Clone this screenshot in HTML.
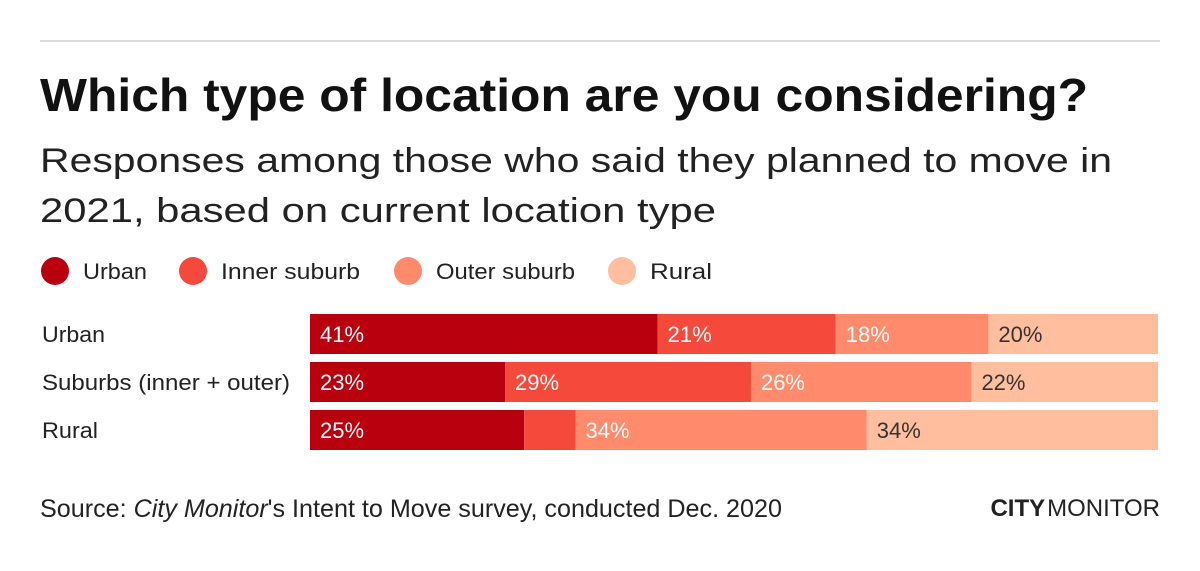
<!DOCTYPE html>
<html><head><meta charset="utf-8"><style>
body{margin:0;width:1200px;height:566px;background:#fff;font-family:"Liberation Sans",sans-serif;overflow:hidden}
</style></head><body>
<svg width="1200" height="566">
<line x1="40" y1="41" x2="1160" y2="41" stroke="#ddd" stroke-width="2"/>
<text x="40" y="111" font-size="46" font-weight="bold" fill="#111" textLength="1048" lengthAdjust="spacingAndGlyphs">Which type of location are you considering?</text>
<text x="40" y="172" font-size="34" fill="#222" textLength="1072" lengthAdjust="spacingAndGlyphs">Responses among those who said they planned to move in</text>
<text x="40" y="222" font-size="34" fill="#222" textLength="676" lengthAdjust="spacingAndGlyphs">2021, based on current location type</text>
<g id="legend"></g>
<g id="bars"></g>
<text x="40" y="517" font-size="25" fill="#222" textLength="742" lengthAdjust="spacingAndGlyphs">Source: <tspan font-style="italic">City Monitor</tspan>'s Intent to Move survey, conducted Dec. 2020</text>
<text x="1160" y="516" text-anchor="end" font-size="24" fill="#222"><tspan font-weight="bold">CITY</tspan><tspan dx="2">MONITOR</tspan></text>
</svg>
<script>
const categories=["Urban","Suburbs (inner + outer)","Rural"];
const seriesNames=["Urban","Inner suburb","Outer suburb","Rural"];
const urbanVals=[41,23,25];
const innerVals=[21,29,6];
const outerVals=[18,26,34];
const ruralVals=[20,22,34];
const labelsShown=[[true,true,true,true],[true,true,true,true],[true,false,true,true]];
const colors=["#b8000e","#f5493b","#ff8a6c","#ffbf9e"];
const textColors=["#fff","#fff","#fff","#333"];
const NS="http://www.w3.org/2000/svg";
const x0=310,x1=1158,rowY=[314,362,410],bh=40;
const series=[urbanVals,innerVals,outerVals,ruralVals];
const bars=document.getElementById('bars');
const leg=document.getElementById('legend');
const legX=[55,193,408,622];
const legLen=[64,139,139,62];
const catLen=[63,248,56];
seriesNames.forEach((n,i)=>{
 const c=document.createElementNS(NS,'circle');
 
 
 c.setAttribute('cx',legX[i]);c.setAttribute('cy',271);c.setAttribute('r',14);c.setAttribute('fill',colors[i]);leg.appendChild(c);
 const t=document.createElementNS(NS,'text');
 
 
 t.setAttribute('x',legX[i]+28);t.setAttribute('y',279);t.setAttribute('font-size',22);t.setAttribute('fill','#222');
 t.setAttribute('textLength',legLen[i]);t.setAttribute('lengthAdjust','spacingAndGlyphs');
 t.textContent=n;leg.appendChild(t);
});
categories.forEach((cat,r)=>{
 const y=rowY[r];
 const l=document.createElementNS(NS,'text');
 
 
 l.setAttribute('x',42);l.setAttribute('y',y+28);l.setAttribute('font-size',22);l.setAttribute('fill','#222');
 l.setAttribute('textLength',catLen[r]);l.setAttribute('lengthAdjust','spacingAndGlyphs');
 l.textContent=cat;bars.appendChild(l);
 const total=series.reduce((s,a)=>s+a[r],0);
 let acc=0;
 series.forEach((arr,i)=>{
  const v=arr[r];
  const xs=x0+(x1-x0)*acc/total, w=(x1-x0)*v/total;
  const rc=document.createElementNS(NS,'rect');
  
  
  rc.setAttribute('x',xs);rc.setAttribute('y',y);rc.setAttribute('width',w);rc.setAttribute('height',bh);rc.setAttribute('fill',colors[i]);bars.appendChild(rc);
  if(labelsShown[r][i]){
   const t=document.createElementNS(NS,'text');
   
   
   t.setAttribute('x',xs+10);t.setAttribute('y',y+28);t.setAttribute('font-size',22);t.setAttribute('fill',textColors[i]);t.textContent=v+'%';bars.appendChild(t);
  }
  acc+=v;
 });
});
</script>
</body></html>
